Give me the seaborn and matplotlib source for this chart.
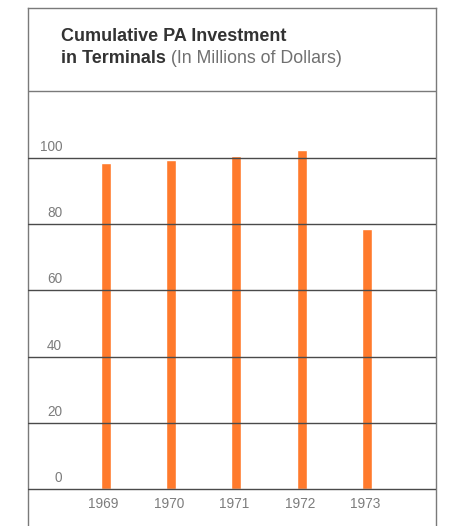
import matplotlib
matplotlib.use("Agg")
import matplotlib.pyplot as plt
import seaborn as sns
import pandas as pd

# Cumulative Port Authority investment in terminals, millions of dollars
years = ["1969", "1970", "1971", "1972", "1973"]
investment = [98.4, 99.4, 100.5, 102.3, 78.5]
grid_values = [0, 20, 40, 60, 80, 100]
grid_labels = ["0", "20", "40", "60", "80", "100"]

title_bold_1 = "Cumulative PA Investment"
title_bold_2 = "in Terminals"
title_unit = " (In Millions of Dollars)"

sns.set_style("white")
plt.rcParams["font.family"] = ["Liberation Sans", "DejaVu Sans"]

BAR = "#ff7a2c"
LINE = "#4a4a4a"
FRAME = "#7a7a7a"
LABEL = "#7c7c7c"

W, H = 449, 526
fig = plt.figure(figsize=(W / 100, H / 100), dpi=100)

# axes box spans the whole frame (left 27.5px, right 436px, top 8px, bottom edge)
left, right, top = 27.5, 436.0, 8.0
ax = fig.add_axes([left / W, 0.0, (right - left) / W, (H - top) / H])

df = pd.DataFrame({"year": years, "value": investment})
sns.barplot(data=df, x="year", y="value", color=BAR, width=0.152,
            saturation=1.0, ax=ax, zorder=2)

ax.set_xlim(-1.193, 5.05)
ax.set_ylim(-11.18, 145.3)
ax.set_xticks([])
ax.set_yticks([])
ax.set_xlabel("")
ax.set_ylabel("")

for side in ("left", "right", "top"):
    ax.spines[side].set_color(FRAME)
    ax.spines[side].set_linewidth(1.0)
ax.spines["bottom"].set_visible(False)

# horizontal rules: value grid plus the separator under the heading
for v in grid_values:
    ax.axhline(v, color=LINE, lw=1.0, zorder=3)
ax.axhline(120.2, color=FRAME, lw=1.0, zorder=3)

for v, lab in zip(grid_values, grid_labels):
    ax.annotate(lab, xy=(0.0845, v), xycoords=("axes fraction", "data"),
                xytext=(0, 5.0), textcoords="offset points",
                ha="right", va="baseline", fontsize=9.8, color=LABEL)

for i, y in enumerate(years):
    ax.annotate(y, xy=(i, 0), xycoords="data",
                xytext=(-1.5, -13.7), textcoords="offset points",
                ha="center", va="baseline", fontsize=9.8, color=LABEL)

# heading
tx = 61 / W
fig.text(tx, (H - 40.7) / H, title_bold_1, fontsize=13, fontweight="bold",
         color="#333333", ha="left", va="baseline")
t2 = fig.text(tx, (H - 63.3) / H, title_bold_2, fontsize=13, fontweight="bold",
              color="#333333", ha="left", va="baseline")
fig.canvas.draw()
bb = t2.get_window_extent()
fig.text(bb.x1 / W, (H - 63.3) / H, title_unit, fontsize=12.8,
         color="#707070", ha="left", va="baseline")

fig.savefig("out.png", dpi=100)
